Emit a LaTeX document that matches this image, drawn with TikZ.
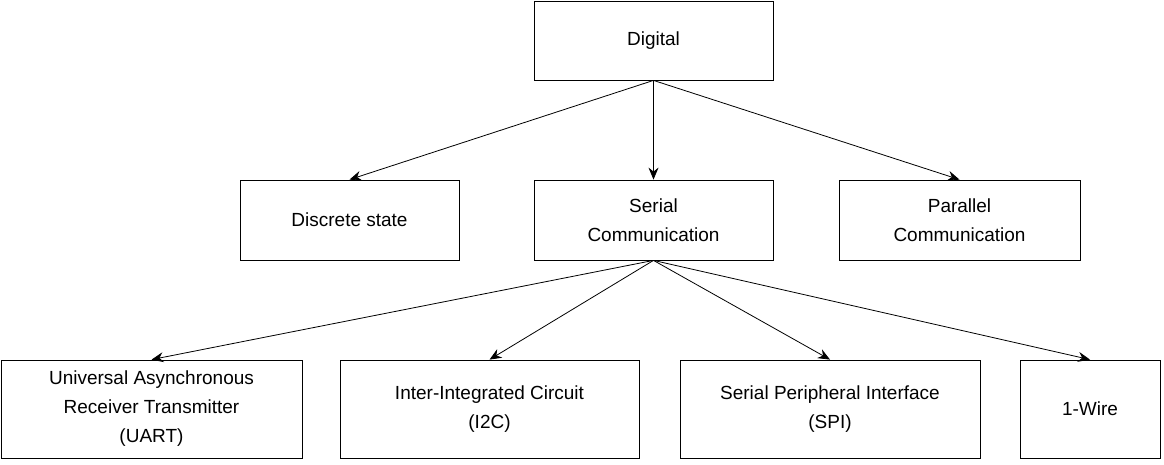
\documentclass[tikz,border=0pt]{standalone}
\usepackage{fontspec}
\setmainfont{Liberation Sans}
\usetikzlibrary{arrows.meta}
\begin{document}
\begin{tikzpicture}[x=1pt,y=-1pt,
  box/.style={draw,thick,align=center,inner sep=0pt,font=\fontsize{19}{29}\selectfont},
  arr/.style={thick,-{Stealth[length=12pt,width=10pt,inset=4pt]}}]
\useasboundingbox (0,0) rectangle (1164,464);
\node[box,minimum width=239pt,minimum height=79pt] (dig) at (653.5,40.5) {Digital};
\node[box,minimum width=219pt,minimum height=80pt] (disc) at (349.5,220) {Discrete state};
\node[box,minimum width=239pt,minimum height=80pt] (ser) at (653.5,220) {Serial\\Communication};
\node[box,minimum width=241pt,minimum height=80pt] (par) at (959.5,220) {Parallel\\Communication};
\node[box,minimum width=301pt,minimum height=98pt] (uart) at (151.5,409) {Universal Asynchronous\\Receiver Transmitter\\(UART)};
\node[box,minimum width=299pt,minimum height=98pt] (i2c) at (489.5,409) {Inter-Integrated Circuit\\(I2C)};
\node[box,minimum width=300pt,minimum height=98pt] (spi) at (830,409) {Serial Peripheral Interface\\(SPI)};
\node[box,minimum width=140pt,minimum height=98pt] (ow) at (1090,409) {1-Wire};
\draw[arr] (dig.south) -- (disc.north);
\draw[arr] (dig.south) -- (ser.north);
\draw[arr] (dig.south) -- (par.north);
\draw[arr] (ser.south) -- (uart.north);
\draw[arr] (ser.south) -- (i2c.north);
\draw[arr] (ser.south) -- (spi.north);
\draw[arr] (ser.south) -- (ow.north);
\end{tikzpicture}
\end{document}
